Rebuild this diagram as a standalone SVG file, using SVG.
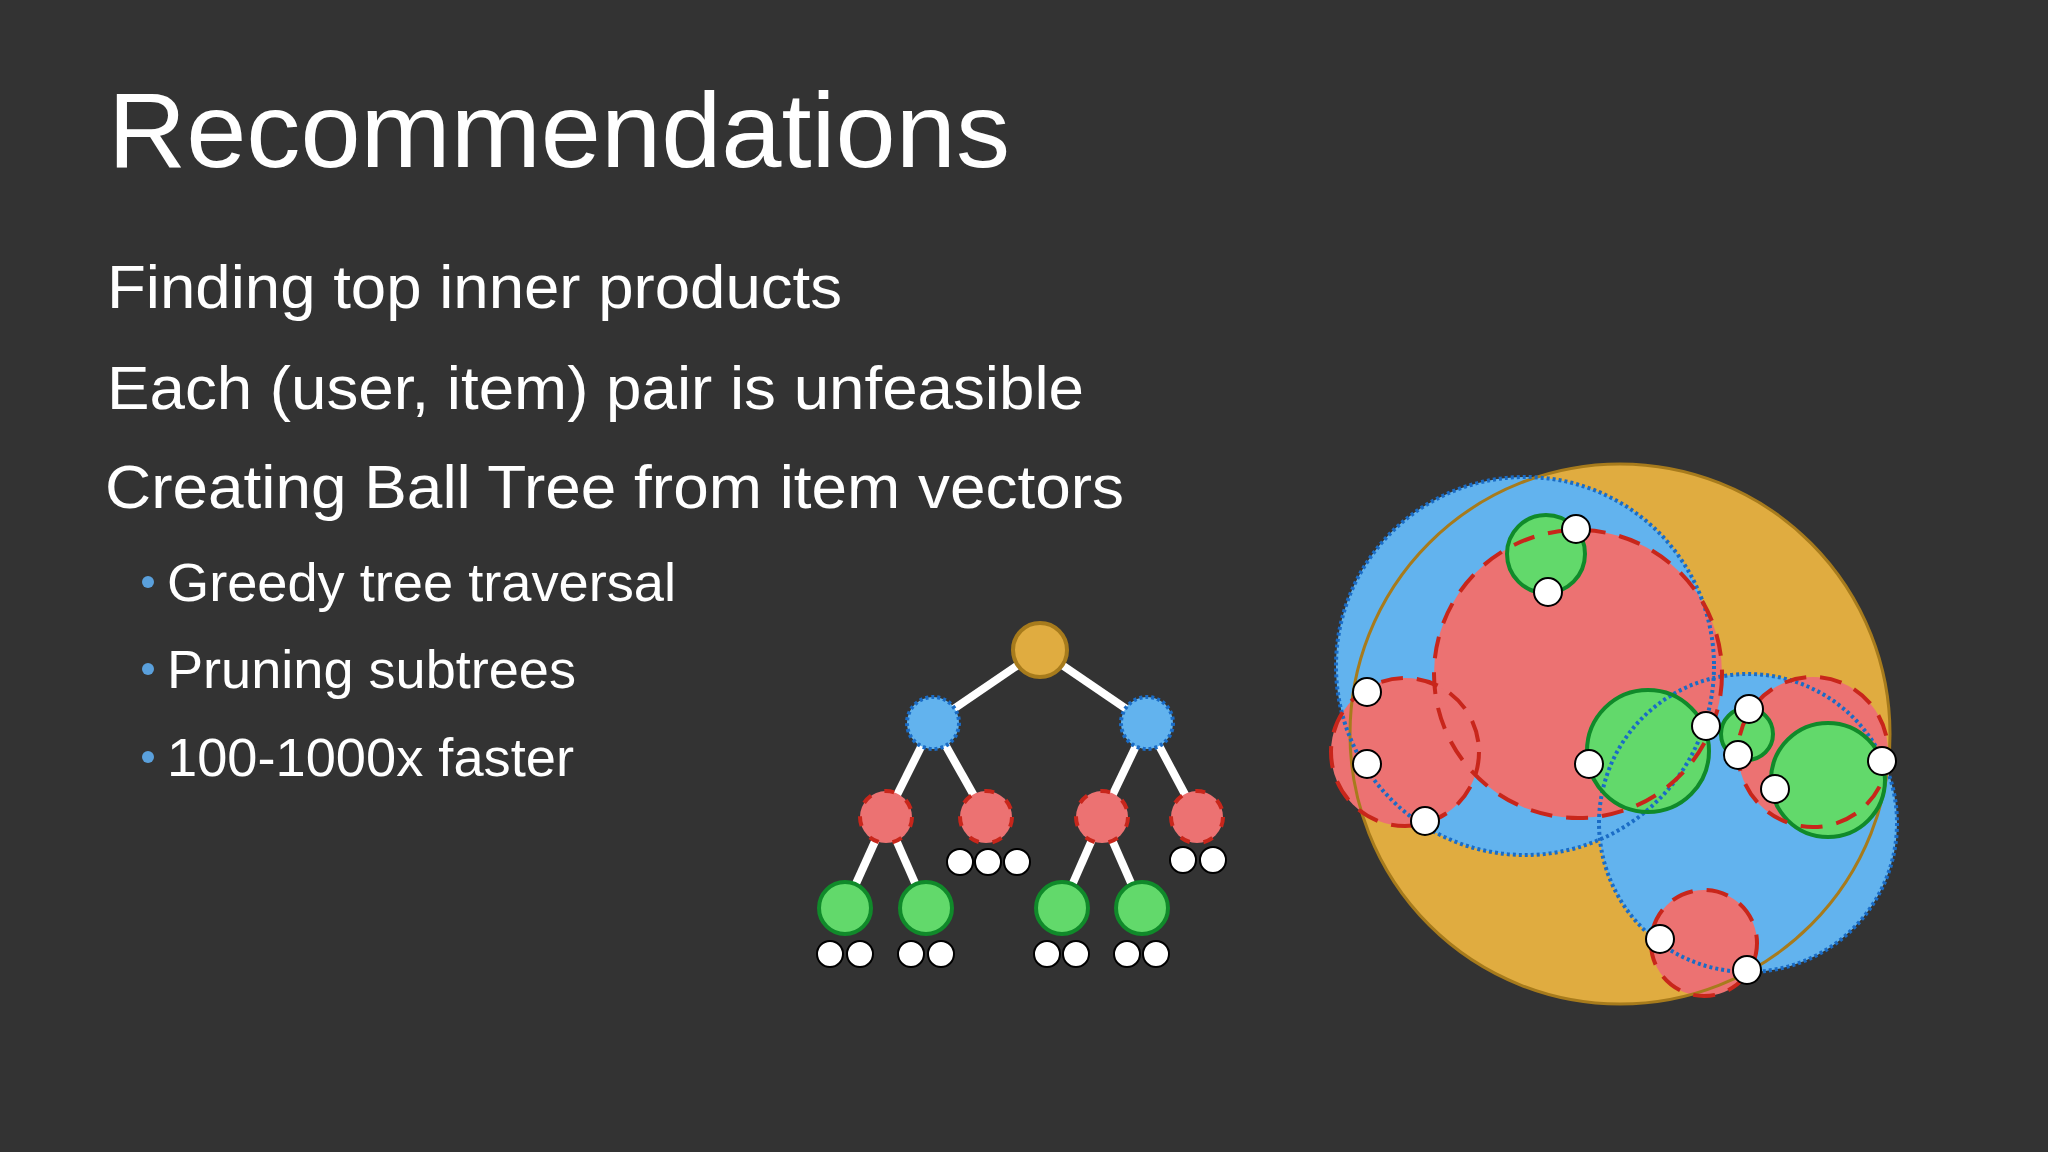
<svg xmlns="http://www.w3.org/2000/svg" width="2048" height="1152" viewBox="0 0 2048 1152">
<style>
text{font-family:"Liberation Sans","Helvetica",Arial,sans-serif;fill:#fff}
.t{font-size:105px}.b{font-size:62px}.s{font-size:54px}
.edge{stroke:#fff;stroke-width:8}
.o{fill:#e0ac40;stroke:#a77b1c;stroke-width:4}
.bl{fill:#62b3ee;stroke:#1a6cc6;stroke-width:4;stroke-dasharray:3 3}
.r{fill:#ec7272;stroke:#c8261b;stroke-width:4;stroke-dasharray:22 14}
.g{fill:#62d96b;stroke:#108a2a;stroke-width:4}
.w{fill:#fff;stroke:#000;stroke-width:2}
.of{fill:#e0ac40}.bf{fill:#62b3ee}.rf{fill:#ec7272}.gf{fill:#62d96b}
.os{fill:none;stroke:#a77b1c;stroke-width:3}
.bs{fill:none;stroke:#1a6cc6;stroke-width:4;stroke-dasharray:3 3}
.rs{fill:none;stroke:#c8261b;stroke-width:4;stroke-dasharray:22 14}
.gs{fill:none;stroke:#108a2a;stroke-width:4}
</style>
<rect width="2048" height="1152" fill="#333"/>
<g id="text">
<text class="t" x="108" y="167" textLength="902" lengthAdjust="spacingAndGlyphs">Recommendations</text>
<text class="b" x="107" y="308" textLength="735" lengthAdjust="spacingAndGlyphs">Finding top inner products</text>
<text class="b" x="107" y="409" textLength="977" lengthAdjust="spacingAndGlyphs">Each (user, item) pair is unfeasible</text>
<text class="b" x="105" y="508" textLength="1019" lengthAdjust="spacingAndGlyphs">Creating Ball Tree from item vectors</text>
<circle cx="148" cy="582" r="6" fill="#5aa0dc"/>
<circle cx="148" cy="669" r="6" fill="#5aa0dc"/>
<circle cx="148" cy="757" r="6" fill="#5aa0dc"/>
<text class="s" x="167" y="601" textLength="509" lengthAdjust="spacingAndGlyphs">Greedy tree traversal</text>
<text class="s" x="167" y="688" textLength="409" lengthAdjust="spacingAndGlyphs">Pruning subtrees</text>
<text class="s" x="167" y="776" textLength="407" lengthAdjust="spacingAndGlyphs">100-1000x faster</text>
</g>
<g id="connectors">
<line class="edge" x1="1040" y1="650" x2="933" y2="723"/>
<line class="edge" x1="1040" y1="650" x2="1147" y2="723"/>
<line class="edge" x1="933" y1="723" x2="886" y2="817"/>
<line class="edge" x1="933" y1="723" x2="986" y2="817"/>
<line class="edge" x1="1147" y1="723" x2="1102" y2="817"/>
<line class="edge" x1="1147" y1="723" x2="1197" y2="817"/>
<line class="edge" x1="886" y1="817" x2="845" y2="908"/>
<line class="edge" x1="886" y1="817" x2="926" y2="908"/>
<line class="edge" x1="1102" y1="817" x2="1062" y2="908"/>
<line class="edge" x1="1102" y1="817" x2="1142" y2="908"/>
</g>
<g id="tree-root"><circle class="o" cx="1040" cy="650" r="27"/></g>
<g id="tree-b1"><circle class="bl" cx="933" cy="723" r="26"/></g>
<g id="tree-b2"><circle class="bl" cx="1147" cy="723" r="26"/></g>
<g id="tree-r1"><circle class="r" cx="886" cy="817" r="26" style="stroke-dasharray:10 14"/></g>
<g id="tree-r2"><circle class="r" cx="986" cy="817" r="26" style="stroke-dasharray:10 14"/></g>
<g id="tree-r3"><circle class="r" cx="1102" cy="817" r="26" style="stroke-dasharray:10 14"/></g>
<g id="tree-r4"><circle class="r" cx="1197" cy="817" r="26" style="stroke-dasharray:10 14"/></g>
<g id="tree-g1"><circle class="g" cx="845" cy="908" r="26"/></g>
<g id="tree-g2"><circle class="g" cx="926" cy="908" r="26"/></g>
<g id="tree-g3"><circle class="g" cx="1062" cy="908" r="26"/></g>
<g id="tree-g4"><circle class="g" cx="1142" cy="908" r="26"/></g>
<g id="tree-leaves">
<circle class="w" cx="960" cy="862" r="13"/><circle class="w" cx="988" cy="862" r="13"/><circle class="w" cx="1017" cy="862" r="13"/>
<circle class="w" cx="1183" cy="860" r="13"/><circle class="w" cx="1213" cy="860" r="13"/>
<circle class="w" cx="830" cy="954" r="13"/><circle class="w" cx="860" cy="954" r="13"/>
<circle class="w" cx="911" cy="954" r="13"/><circle class="w" cx="941" cy="954" r="13"/>
<circle class="w" cx="1047" cy="954" r="13"/><circle class="w" cx="1076" cy="954" r="13"/>
<circle class="w" cx="1127" cy="954" r="13"/><circle class="w" cx="1156" cy="954" r="13"/>
</g>
<g id="balls">
<g id="fills">
<circle class="of" cx="1620" cy="734" r="270"/>
<circle class="bf" cx="1525" cy="666" r="189"/>
<circle class="bf" cx="1748" cy="823" r="149"/>
<circle class="rf" cx="1578" cy="674" r="144"/>
<circle class="rf" cx="1405" cy="752" r="74"/>
<circle class="rf" cx="1813" cy="752" r="75"/>
<circle class="rf" cx="1704" cy="943" r="53"/>
<circle class="gf" cx="1546" cy="554" r="39"/>
<circle class="gf" cx="1648" cy="751" r="61"/>
<circle class="gf" cx="1747" cy="734" r="26"/>
<circle class="gf" cx="1828" cy="780" r="57"/>
</g>
<g id="strokes">
<circle class="os" cx="1620" cy="734" r="270"/>
<circle class="bs" cx="1525" cy="666" r="189"/>
<circle class="bs" cx="1748" cy="823" r="149"/>
<circle class="gs" cx="1546" cy="554" r="39"/>
<circle class="gs" cx="1648" cy="751" r="61"/>
<circle class="gs" cx="1747" cy="734" r="26"/>
<circle class="gs" cx="1828" cy="780" r="57"/>
<circle class="rs" cx="1578" cy="674" r="144"/>
<circle class="rs" cx="1405" cy="752" r="74"/>
<circle class="rs" cx="1813" cy="752" r="75"/>
<circle class="rs" cx="1704" cy="943" r="53"/>
</g>
<g id="points">
<circle class="w" cx="1576" cy="529" r="14"/><circle class="w" cx="1548" cy="592" r="14"/>
<circle class="w" cx="1367" cy="692" r="14"/><circle class="w" cx="1367" cy="764" r="14"/>
<circle class="w" cx="1425" cy="821" r="14"/><circle class="w" cx="1589" cy="764" r="14"/>
<circle class="w" cx="1706" cy="726" r="14"/><circle class="w" cx="1749" cy="709" r="14"/>
<circle class="w" cx="1738" cy="755" r="14"/><circle class="w" cx="1775" cy="789" r="14"/>
<circle class="w" cx="1882" cy="761" r="14"/><circle class="w" cx="1660" cy="939" r="14"/>
<circle class="w" cx="1747" cy="970" r="14"/>
</g>
</g>
</svg>
